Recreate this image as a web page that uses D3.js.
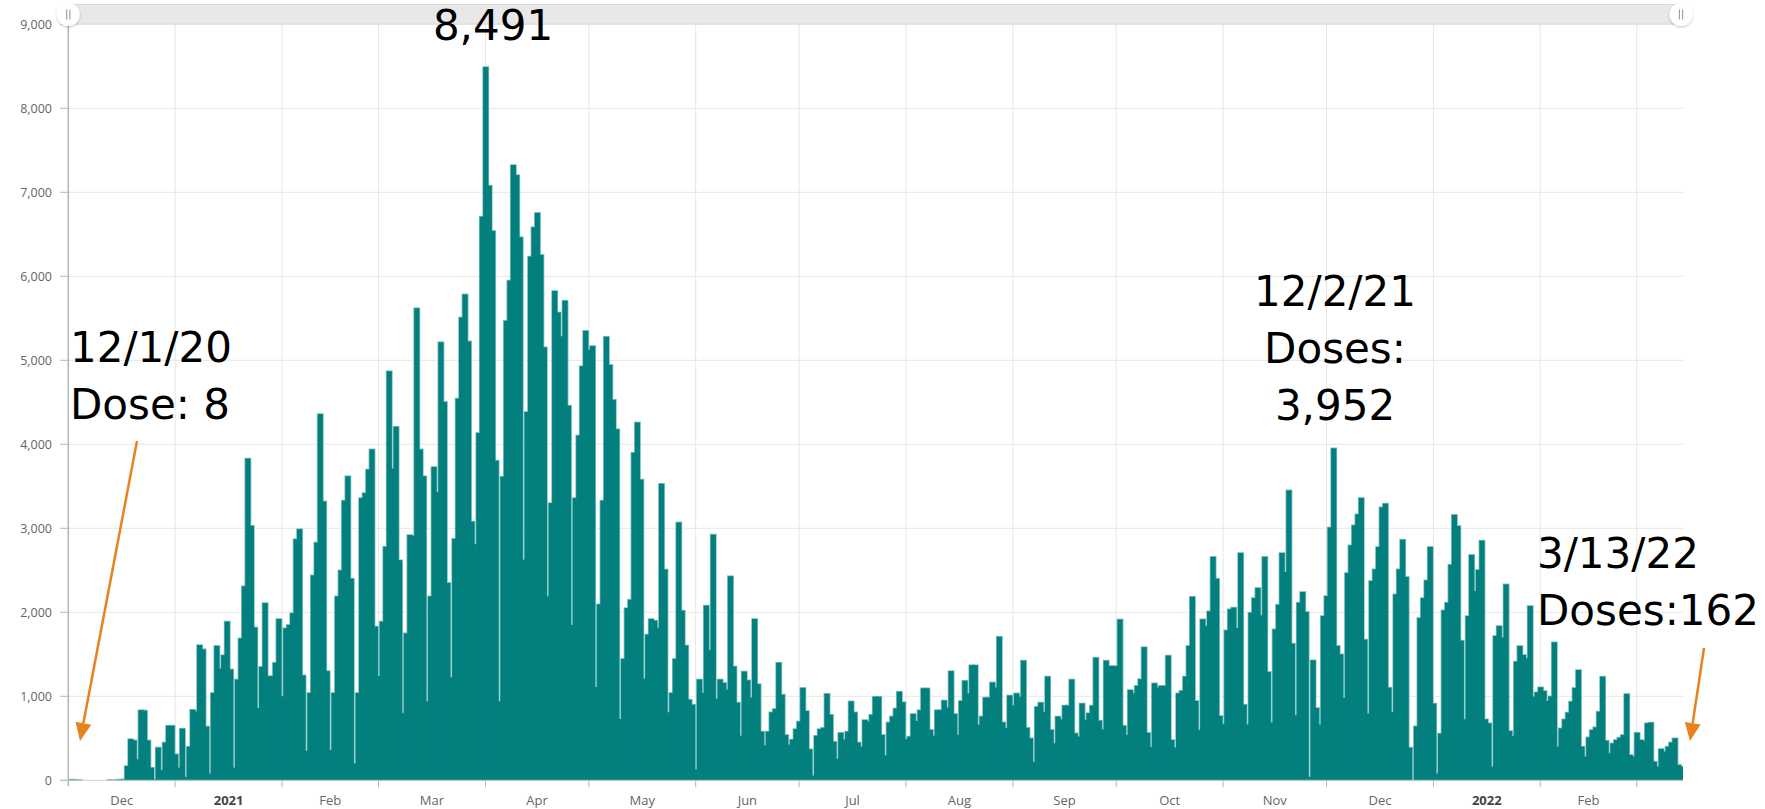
<!DOCTYPE html>
<html>
<head>
<meta charset="utf-8">
<script src="https://cdnjs.cloudflare.com/ajax/libs/d3/7.8.5/d3.min.js"></script>
<style>
    html, body { margin: 0; padding: 0; background: #fff; }
    svg { display: block; }
</style>
</head>
<body>
<svg id="chart" width="1765" height="809"></svg>
<script>
// Daily doses, one array per month, starting 12/1/2020.
const dec20 = [8, 5, 4, 0, 0, 0, 0, 0, 0, 0, 0, 5, 0, 6, 8, 10, 170, 490, 475, 250, 835, 830, 475, 150, 10, 390, 120, 450, 650, 650, 310];
const jan21 = [150, 615, 40, 400, 840, 820, 1610, 1560, 640, 80, 1040, 1600, 1330, 1490, 1890, 1320, 150, 1200, 1690, 2310, 3830, 3030, 1820, 860, 1350, 2110, 1240, 1240, 1400, 1920, 1000];
const feb21 = [1810, 1850, 1990, 2870, 2990, 1250, 350, 1040, 2440, 2830, 4360, 3320, 1300, 360, 1040, 2190, 2500, 3330, 3620, 2400, 200, 1040, 3360, 3420, 3700, 3940, 1830, 1240];
const mar21 = [1890, 2780, 4870, 3710, 4210, 2620, 800, 1750, 2920, 2910, 5620, 3940, 3620, 940, 2190, 3730, 3430, 5215, 4505, 2350, 1225, 2875, 4545, 5510, 5785, 5225, 3080, 2810, 4135, 6710, 8491];
const apr21 = [7080, 6540, 3805, 940, 3615, 5470, 5950, 7325, 7205, 6465, 2625, 4385, 6235, 6585, 6755, 6255, 5155, 2190, 3300, 5825, 5570, 5285, 5710, 4460, 1850, 3360, 4105, 4930, 5350, 5125];
const may21 = [5170, 1110, 2095, 3330, 5280, 4945, 4530, 4180, 730, 1445, 2050, 2150, 3900, 4260, 3580, 1210, 1735, 1920, 1900, 1815, 3530, 2510, 810, 1040, 1445, 3070, 2020, 1605, 960, 900, 130];
const jun21 = [1200, 1040, 2080, 1550, 2925, 970, 1200, 1160, 1080, 2430, 1355, 925, 530, 1295, 1190, 985, 1920, 1145, 580, 415, 580, 810, 850, 1400, 1020, 540, 425, 485, 610, 700];
const jul21 = [1100, 825, 370, 55, 530, 610, 625, 1030, 780, 460, 255, 565, 485, 580, 940, 810, 450, 400, 718, 700, 780, 995, 995, 540, 295, 690, 760, 855, 1055, 930, 490];
const aug21 = [520, 790, 705, 835, 1095, 1095, 600, 530, 835, 835, 950, 865, 1300, 790, 540, 945, 1185, 1035, 1370, 1370, 660, 760, 985, 985, 1165, 1105, 1710, 690, 620, 1010, 890];
const sep21 = [1035, 995, 1425, 625, 500, 220, 875, 925, 815, 1235, 600, 440, 760, 725, 890, 890, 1200, 560, 520, 915, 720, 800, 890, 1460, 710, 605, 1425, 1360, 1360, 1360];
const oct21 = [1915, 650, 540, 1075, 1035, 1125, 1205, 1585, 565, 395, 1155, 1105, 1125, 1125, 1485, 480, 390, 1035, 1065, 1235, 1600, 2185, 945, 600, 1917, 1837, 2012, 2660, 2400, 766, 667];
const nov21 = [1786, 2036, 2056, 1813, 2706, 900, 663, 1996, 2170, 2290, 1964, 2660, 1290, 687, 1798, 2091, 2706, 2480, 3452, 1627, 774, 2115, 2242, 2004, 40, 1429, 861, 663, 1956, 2194];
const dec21 = [3010, 3952, 1600, 1500, 980, 2468, 2798, 3036, 3167, 3361, 1675, 794, 2373, 2512, 2778, 3250, 3294, 1103, 813, 2214, 2512, 2865, 2421, 389, 5, 643, 1933, 2170, 2381, 2778, 913];
const jan22 = [80, 556, 2024, 2115, 2567, 3160, 3028, 1663, 726, 1956, 2683, 2254, 2504, 2853, 726, 679, 163, 1718, 1837, 1700, 2333, 587, 528, 1413, 1599, 1492, 1452, 2075, 996, 1048, 1107];
const feb22 = [1063, 944, 1000, 1643, 401, 619, 726, 806, 937, 1100, 1313, 401, 282, 512, 599, 631, 817, 1234, 472, 321, 440, 480, 508, 540, 1028, 302, 282, 567];
const mar22 = [480, 472, 679, 687, 222, 163, 373, 341, 401, 450, 500, 183, 162];

const yTicks = [0, 1000, 2000, 3000, 4000, 5000, 6000, 7000, 8000, 9000];

// Callouts as they were typed on the picture.
const notes = [
    { lines: ["8,491"], x: 493, y: 40, anchor: "middle" },
    { lines: ["12/1/20", "Dose: 8"], x: 70, y: 362, anchor: "start" },
    { lines: ["12/2/21", "Doses:", "3,952"], x: 1335, y: 306, anchor: "middle" },
    { lines: ["3/13/22", "Doses:162"], x: 1537, y: 568, anchor: "start" }
];
const arrows = [
    { from: [137, 441], to: [80, 741] },
    { from: [1704, 648], to: [1690, 741] }
];

const DAY = 864e5;
const first = Date.UTC(2020, 11, 1);
const doses = [].concat(dec20, jan21, feb21, mar21, apr21, may21, jun21, jul21, aug21, sep21, oct21, nov21, dec21, jan22, feb22, mar22);
const data = doses.map((value, i) => ({ date: new Date(first + i * DAY), value }));

const plotLeft = 68.3, plotRight = 1683, plotTop = 24.3, plotBottom = 780.3;

const x = d3
    .scaleUtc()
    .domain([new Date(first), new Date(Date.UTC(2022, 2, 14, 10))])
    .range([plotLeft, plotRight]);

const y = d3
    .scaleLinear()
    .domain([0, 9000])
    .range([plotBottom, plotTop]);

const svg = d3.select("#chart");
const font = "'Open Sans', 'Liberation Sans', sans-serif";
const noteFont = "'DejaVu Sans', sans-serif";

// Grid
const months = d3.utcMonth.range(new Date(Date.UTC(2021, 0, 1)), x.domain()[1]);

svg
    .append("g")
    .selectAll("line")
    .data(yTicks.filter(t => t > 0))
    .join("line")
    .attr("x1", plotLeft)
    .attr("x2", plotRight)
    .attr("y1", d => y(d))
    .attr("y2", d => y(d))
    .attr("stroke", "#e6e6e6")
    .attr("stroke-width", 1);

svg
    .append("g")
    .selectAll("line")
    .data(months)
    .join("line")
    .attr("x1", d => x(d))
    .attr("x2", d => x(d))
    .attr("y1", plotTop)
    .attr("y2", plotBottom)
    .attr("stroke", "#e6e6e6")
    .attr("stroke-width", 1);

// Bars: a light halo pass first, then the teal fill, so only the outer edge shows light.
svg
    .append("clipPath")
    .attr("id", "plot")
    .append("rect")
    .attr("x", plotLeft)
    .attr("y", 0)
    .attr("width", plotRight - plotLeft)
    .attr("height", plotBottom + 1);

const shift = 0.6 * DAY;
const barX = d => x(new Date(+d.date + shift)) - 0.9;
const barW = d => x(new Date(+d.date + DAY + shift)) - x(new Date(+d.date + shift)) + 1.8;
const shown = data.filter(d => d.value > 0);

const bars = svg.append("g").attr("clip-path", "url(#plot)");

bars
    .append("g")
    .selectAll("rect")
    .data(shown)
    .join("rect")
    .attr("x", barX)
    .attr("width", barW)
    .attr("y", d => y(d.value))
    .attr("height", d => plotBottom - y(d.value))
    .attr("fill", "#7fc3c1")
    .attr("stroke", "#7fc3c1")
    .attr("stroke-width", 1.6);

bars
    .append("g")
    .selectAll("rect")
    .data(shown)
    .join("rect")
    .attr("x", barX)
    .attr("width", barW)
    .attr("y", d => y(d.value))
    .attr("height", d => plotBottom - y(d.value))
    .attr("fill", "#037f7e");

// Axes
svg
    .append("line")
    .attr("x1", plotLeft)
    .attr("x2", plotLeft)
    .attr("y1", plotTop)
    .attr("y2", plotBottom + 6)
    .attr("stroke", "#b5b5b5")
    .attr("stroke-width", 1.5);

svg
    .append("line")
    .attr("x1", plotLeft - 8)
    .attr("x2", plotRight)
    .attr("y1", plotBottom)
    .attr("y2", plotBottom)
    .attr("stroke", "#cfcfcf")
    .attr("stroke-width", 1);

const yAxis = svg.append("g");

yAxis
    .selectAll("line")
    .data(yTicks)
    .join("line")
    .attr("x1", plotLeft - 8)
    .attr("x2", plotLeft)
    .attr("y1", d => y(d))
    .attr("y2", d => y(d))
    .attr("stroke", "#b5b5b5");

yAxis
    .selectAll("text")
    .data(yTicks)
    .join("text")
    .attr("x", 52)
    .attr("y", d => y(d))
    .attr("dy", "0.35em")
    .attr("text-anchor", "end")
    .attr("font-family", font)
    .attr("font-size", 12.5)
    .attr("fill", "#666")
    .text(d3.format(","));

const xAxis = svg.append("g");

xAxis
    .selectAll("line")
    .data(months)
    .join("line")
    .attr("x1", d => x(d))
    .attr("x2", d => x(d))
    .attr("y1", plotBottom)
    .attr("y2", plotBottom + 7)
    .attr("stroke", "#b5b5b5");

// Labels sit in the middle of each month.
const labelMonths = d3
    .utcMonth
    .range(new Date(first), x.domain()[1])
    .filter(m => +d3.utcMonth.offset(m, 1) <= +x.domain()[1]);

xAxis
    .selectAll("text")
    .data(labelMonths)
    .join("text")
    .attr("x", d => (x(d) + x(d3.utcMonth.offset(d, 1))) / 2)
    .attr("y", 805)
    .attr("text-anchor", "middle")
    .attr("font-family", font)
    .attr("font-size", 13)
    .attr("font-weight", d => d.getUTCMonth() === 0 ? 700 : 400)
    .attr("fill", d => d.getUTCMonth() === 0 ? "#444" : "#666")
    .text(d => d.getUTCMonth() === 0 ? d3.utcFormat("%Y")(d) : d3.utcFormat("%b")(d));

// Scrollbar strip along the top
const scroll = svg.append("g");

scroll
    .append("rect")
    .attr("x", plotLeft)
    .attr("y", 4.5)
    .attr("width", plotRight - plotLeft)
    .attr("height", 19.5)
    .attr("rx", 4)
    .attr("fill", "#e8e8e8")
    .attr("stroke", "#dadada");

const defs = svg.append("defs");
const shadow = defs
    .append("filter")
    .attr("id", "grip-shadow")
    .attr("x", "-50%")
    .attr("y", "-50%")
    .attr("width", "200%")
    .attr("height", "200%");
shadow
    .append("feDropShadow")
    .attr("dx", 0)
    .attr("dy", 1)
    .attr("stdDeviation", 1.2)
    .attr("flood-color", "#000")
    .attr("flood-opacity", 0.25);

for (const cx of [plotLeft, 1681]) {
    const grip = scroll.append("g").attr("transform", `translate(${cx},14.5)`);
    grip
        .append("circle")
        .attr("r", 11.5)
        .attr("fill", "#fff")
        .attr("filter", "url(#grip-shadow)");
    for (const dx of [-1.6, 1.6]) {
        grip
            .append("line")
            .attr("x1", dx)
            .attr("x2", dx)
            .attr("y1", -5)
            .attr("y2", 5)
            .attr("stroke", "#9a9a9a")
            .attr("stroke-width", 1.1);
    }
}

// Callouts
const noteGroup = svg.append("g");

for (const note of notes) {
    note.lines.forEach((line, i) => {
        noteGroup
            .append("text")
            .attr("x", note.x)
            .attr("y", note.y + i * 57)
            .attr("text-anchor", note.anchor)
            .attr("font-family", noteFont)
            .attr("font-size", 42)
            .attr("fill", "#000")
            .text(line);
    });
}

for (const a of arrows) {
    const [x1, y1] = a.from;
    const [x2, y2] = a.to;
    const angle = Math.atan2(y2 - y1, x2 - x1);
    const len = 18, half = 8;
    const bx = x2 - len * Math.cos(angle), by = y2 - len * Math.sin(angle);
    noteGroup
        .append("line")
        .attr("x1", x1)
        .attr("y1", y1)
        .attr("x2", bx)
        .attr("y2", by)
        .attr("stroke", "#e8821e")
        .attr("stroke-width", 2.5);
    noteGroup
        .append("path")
        .attr("d", d3.line()([
            [x2, y2],
            [bx + half * Math.sin(angle), by - half * Math.cos(angle)],
            [bx - half * Math.sin(angle), by + half * Math.cos(angle)]
        ]) + "Z")
        .attr("fill", "#e8821e");
}
</script>
</body>
</html>
